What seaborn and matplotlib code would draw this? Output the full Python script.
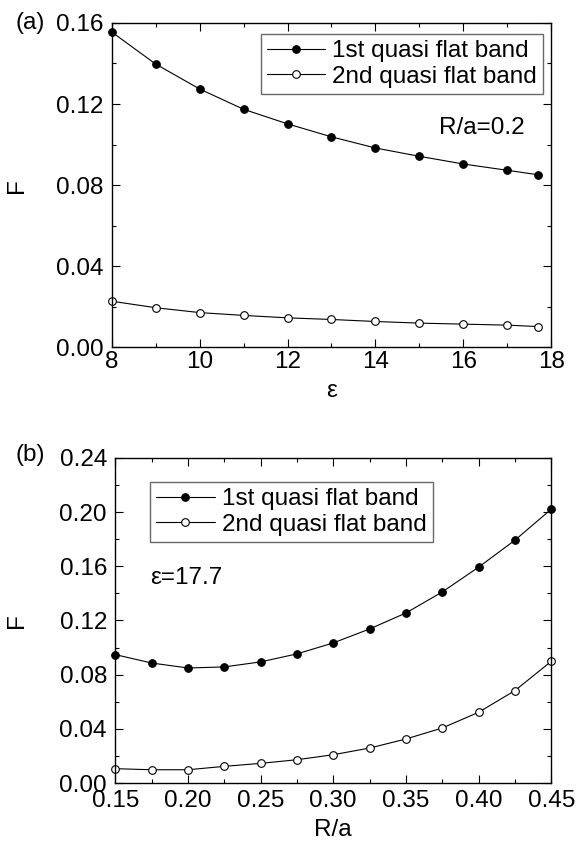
import numpy as np
import pandas as pd
import matplotlib
matplotlib.use('Agg')
import matplotlib.pyplot as plt
import seaborn as sns
from matplotlib.ticker import MultipleLocator, FormatStrFormatter

# panel (a): F vs epsilon at R/a = 0.2
eps = [8, 9, 10, 11, 12, 13, 14, 15, 16, 17, 17.7]
band1_eps = [0.1555, 0.1397, 0.1274, 0.1174, 0.1102, 0.1038, 0.0983, 0.0942, 0.0904, 0.0873, 0.0851]
band2_eps = [0.0227, 0.0195, 0.0171, 0.0157, 0.0145, 0.0137, 0.0127, 0.0119, 0.0114, 0.0109, 0.0102]

# panel (b): F vs R/a at epsilon = 17.7
ra = [0.15, 0.175, 0.2, 0.225, 0.25, 0.275, 0.3, 0.325, 0.35, 0.375, 0.4, 0.425, 0.45]
band1_ra = [0.0948, 0.0886, 0.0849, 0.0857, 0.0894, 0.0953, 0.1034, 0.1137, 0.1255, 0.1410, 0.1593, 0.1792, 0.2021]
band2_ra = [0.0106, 0.0098, 0.0098, 0.0123, 0.0145, 0.0172, 0.0209, 0.0258, 0.0325, 0.0406, 0.0522, 0.0682, 0.0898]

labels = ['1st quasi flat band', '2nd quasi flat band']

sns.set_style('ticks')
plt.rcParams['font.family'] = ['Liberation Sans', 'DejaVu Sans']
plt.rcParams['text.color'] = 'black'
plt.rcParams['axes.labelcolor'] = 'black'
plt.rcParams['xtick.color'] = 'black'
plt.rcParams['ytick.color'] = 'black'
fs = 17.5

fig = plt.figure(figsize=(5.79, 8.49), dpi=100)
ax1 = fig.add_axes([0.193, 0.591, 0.759, 0.382])
ax2 = fig.add_axes([0.199, 0.0777, 0.753, 0.383])


def draw(ax, x, y1, y2):
    df = pd.DataFrame({'x': x, 'y1': y1, 'y2': y2})
    sns.lineplot(data=df, x='x', y='y1', ax=ax, color='black', lw=0.8,
                 marker='o', markersize=5.5, markerfacecolor='black',
                 markeredgecolor='black', label=labels[0], clip_on=False)
    sns.lineplot(data=df, x='x', y='y2', ax=ax, color='black', lw=0.8,
                 marker='o', markersize=5.5, markerfacecolor='white',
                 markeredgecolor='black', markeredgewidth=0.8,
                 label=labels[1], clip_on=False)


draw(ax1, eps, band1_eps, band2_eps)
draw(ax2, ra, band1_ra, band2_ra)

ax1.set_xlim(8, 18)
ax1.set_ylim(0, 0.16)
ax1.xaxis.set_major_locator(MultipleLocator(2))
ax1.xaxis.set_minor_locator(MultipleLocator(1))
ax1.yaxis.set_major_locator(MultipleLocator(0.04))
ax1.yaxis.set_minor_locator(MultipleLocator(0.02))
ax1.yaxis.set_major_formatter(FormatStrFormatter('%.2f'))

ax2.set_xlim(0.15, 0.45)
ax2.set_ylim(0, 0.24)
ax2.xaxis.set_major_locator(MultipleLocator(0.05))
ax2.xaxis.set_minor_locator(MultipleLocator(0.025))
ax2.yaxis.set_major_locator(MultipleLocator(0.04))
ax2.yaxis.set_minor_locator(MultipleLocator(0.02))
ax2.xaxis.set_major_formatter(FormatStrFormatter('%.2f'))
ax2.yaxis.set_major_formatter(FormatStrFormatter('%.2f'))

for ax in (ax1, ax2):
    for s in ax.spines.values():
        s.set_visible(True)
        s.set_linewidth(1.0)
        s.set_color('black')
    ax.tick_params(which='both', direction='in', top=True, right=True,
                   width=0.8, color='black', labelsize=fs)
    ax.tick_params(which='major', length=6)
    ax.tick_params(which='minor', length=3)
    ax.tick_params(axis='y', pad=6)
    ax.set_ylabel('F', fontsize=fs)

ax1.tick_params(axis='x', pad=3)
ax2.tick_params(axis='x', pad=5)

ax1.set_xlabel('ε', fontsize=fs)
ax2.set_xlabel('R/a', fontsize=fs)
ax1.yaxis.set_label_coords(-0.19, 0.5)
ax2.yaxis.set_label_coords(-0.2, 0.5)
ax1.xaxis.set_label_coords(0.5, -0.10)
ax2.xaxis.set_label_coords(0.5, -0.11)

leg_kw = dict(fontsize=fs, frameon=True, fancybox=False, edgecolor='#444444',
              handlelength=2.4, handletextpad=0.3, borderpad=0.25,
              labelspacing=0.15, borderaxespad=0)
l1 = ax1.legend(loc='upper right', bbox_to_anchor=(0.982, 0.966), **leg_kw)
l2 = ax2.legend(loc='upper left', bbox_to_anchor=(0.08, 0.926), **leg_kw)
for l in (l1, l2):
    l.get_frame().set_linewidth(1.0)

ax1.text(0.843, 0.676, 'R/a=0.2', transform=ax1.transAxes, fontsize=fs,
         ha='center', va='center')
ax2.text(0.08, 0.631, 'ε=17.7', transform=ax2.transAxes, fontsize=fs,
         ha='left', va='center')

fig.text(0.026, 0.973, '(a)', fontsize=fs, ha='left', va='center')
fig.text(0.026, 0.464, '(b)', fontsize=fs, ha='left', va='center')

fig.savefig('out.png', dpi=100)
